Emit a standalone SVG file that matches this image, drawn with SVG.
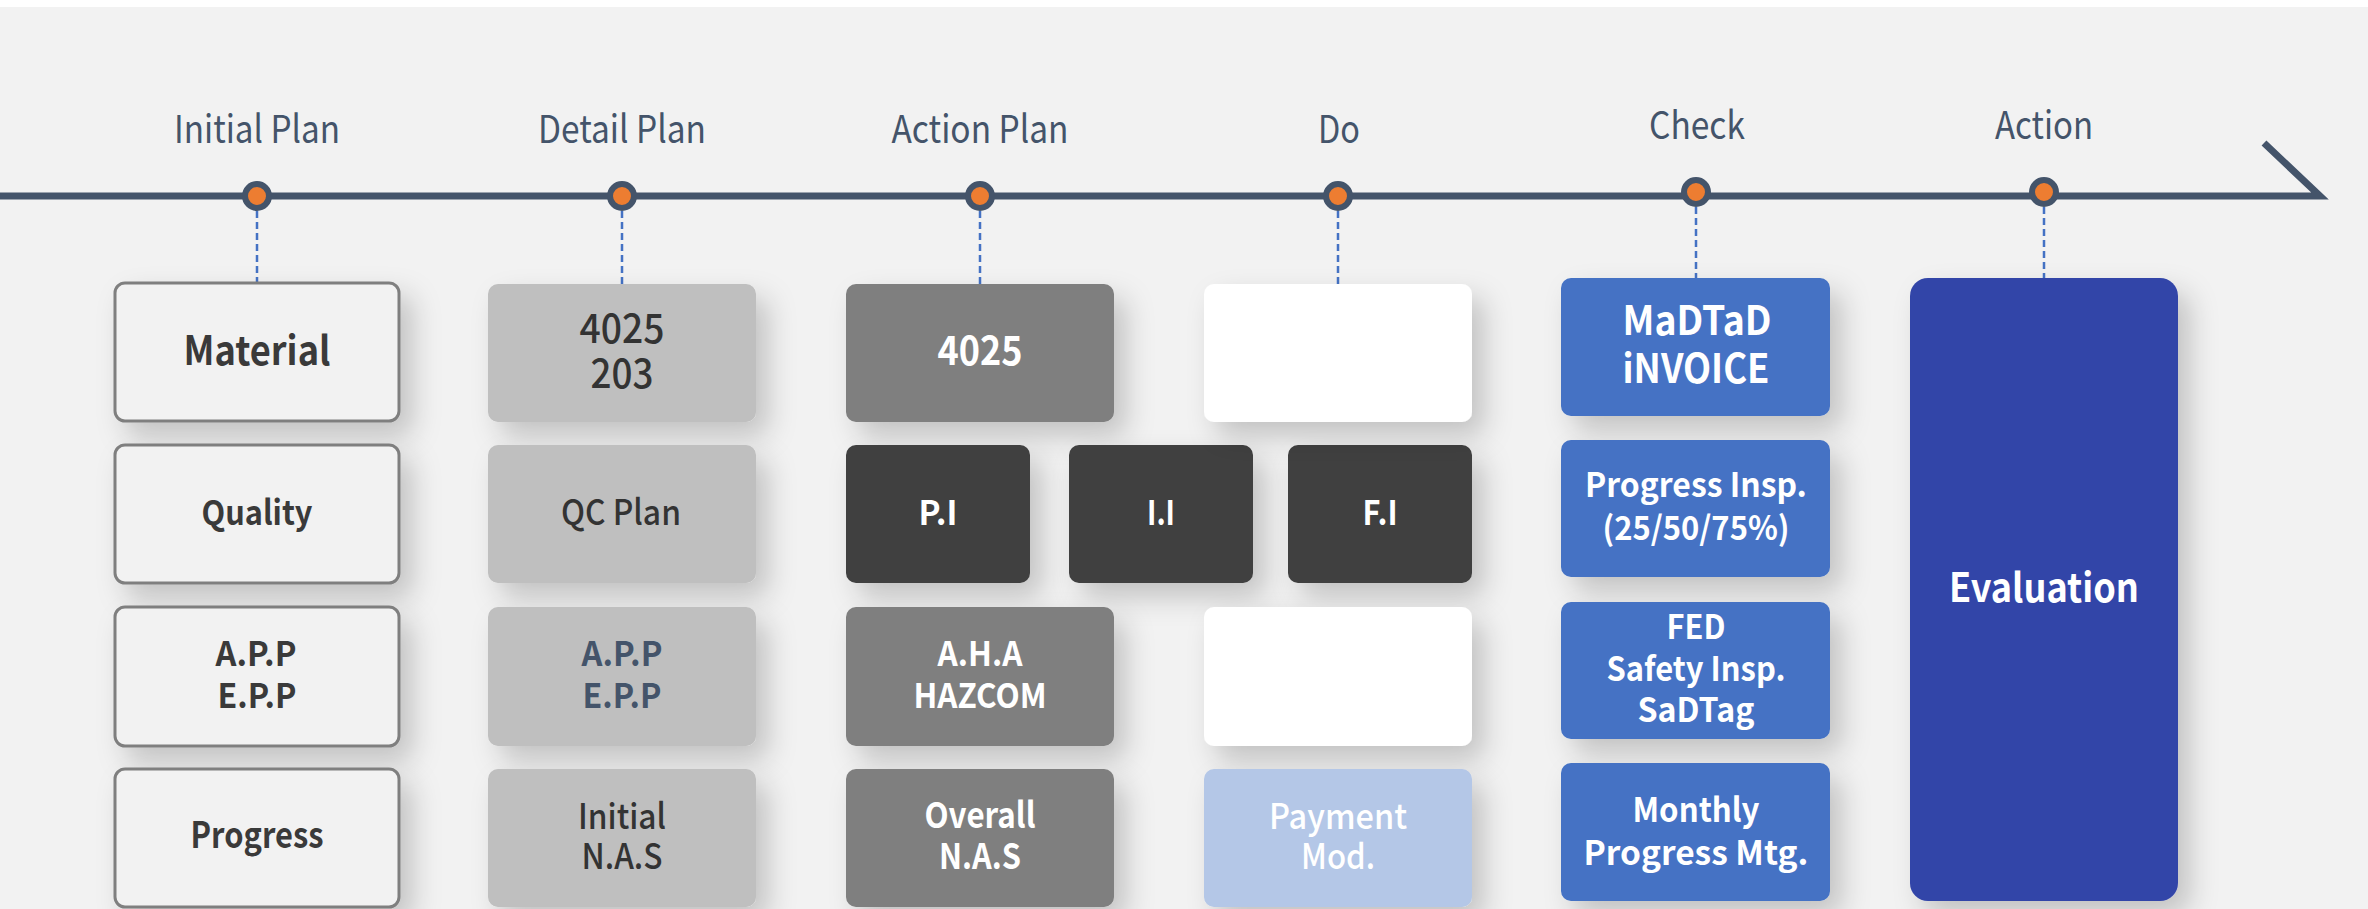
<svg xmlns="http://www.w3.org/2000/svg" width="2368" height="909" viewBox="0 0 2368 909">
<defs>
<filter id="sh" x="-30%" y="-30%" width="170%" height="170%">
<feDropShadow dx="12" dy="14" stdDeviation="14" flood-color="#000" flood-opacity="0.2"/>
</filter>
<style>
text{font-family:"Noto Sans CJK KR","Noto Sans",sans-serif;text-anchor:middle}
.lab{font-size:38px;fill:#44546a}
.dot{fill:#ed7d31;stroke:#44546a;stroke-width:6}
.dash{stroke:#4472c4;stroke-width:2.5;stroke-dasharray:7 4;fill:none}
.c1{fill:#f2f2f2;stroke:#7f7f7f;stroke-width:3}
.c2{fill:#bfbfbf}
.c3{fill:#7f7f7f}
.dk{fill:#404040}
.wh{fill:#ffffff}
.lb{fill:#b4c7e7}
.bl{fill:#4472c4}
.nv{fill:#3244a8}
.tb{font-weight:700;fill:#3a3a3a}
.tm{font-weight:500;fill:#333333}
.tw{font-weight:700;fill:#ffffff}
</style>
</defs>
<rect x="0" y="0" width="2368" height="909" fill="#ffffff"/>
<rect x="0" y="7" width="2368" height="902" fill="#f2f2f2"/>

<g id="timeline">
<polyline points="0,196 2320,196 2264,143" fill="none" stroke="#44546a" stroke-width="7"/>
</g>

<g id="connectors">
<line class="dash" x1="257" y1="211" x2="257" y2="283"/>
<line class="dash" x1="622" y1="211" x2="622" y2="284"/>
<line class="dash" x1="980" y1="211" x2="980" y2="284"/>
<line class="dash" x1="1338" y1="211" x2="1338" y2="284"/>
<line class="dash" x1="1696" y1="207" x2="1696" y2="278"/>
<line class="dash" x1="2044" y1="207" x2="2044" y2="278"/>
</g>

<g id="stage-initial">
<circle class="dot" cx="257" cy="196" r="12"/>
<text class="lab" x="257" y="143" textLength="166" lengthAdjust="spacingAndGlyphs">Initial Plan</text>
</g>
<g id="stage-detail">
<circle class="dot" cx="622" cy="196" r="12"/>
<text class="lab" x="622" y="143" textLength="168" lengthAdjust="spacingAndGlyphs">Detail Plan</text>
</g>
<g id="stage-action-plan">
<circle class="dot" cx="980" cy="196" r="12"/>
<text class="lab" x="980" y="143" textLength="177" lengthAdjust="spacingAndGlyphs">Action Plan</text>
</g>
<g id="stage-do">
<circle class="dot" cx="1338" cy="196" r="12"/>
<text class="lab" x="1339" y="143" textLength="42" lengthAdjust="spacingAndGlyphs">Do</text>
</g>
<g id="stage-check">
<circle class="dot" cx="1696" cy="192" r="12"/>
<text class="lab" x="1697" y="139" textLength="96" lengthAdjust="spacingAndGlyphs">Check</text>
</g>
<g id="stage-action">
<circle class="dot" cx="2044" cy="192" r="12"/>
<text class="lab" x="2044" y="139" textLength="98" lengthAdjust="spacingAndGlyphs">Action</text>
</g>

<g id="material">
<rect class="c1" x="115" y="283" width="284" height="138" rx="10" filter="url(#sh)"/>
<text class="tb" x="257" y="365" font-size="40" textLength="147" lengthAdjust="spacingAndGlyphs">Material</text>
</g>
<g id="quality">
<rect class="c1" x="115" y="445" width="284" height="138" rx="10" filter="url(#sh)"/>
<text class="tb" x="257" y="525" font-size="34" textLength="111" lengthAdjust="spacingAndGlyphs">Quality</text>
</g>
<g id="app-epp">
<rect class="c1" x="115" y="607" width="284" height="139" rx="10" filter="url(#sh)"/>
<text class="tb" x="256" y="666" font-size="34" textLength="81" lengthAdjust="spacingAndGlyphs">A.P.P</text>
<text class="tb" x="257" y="708" font-size="34" textLength="79" lengthAdjust="spacingAndGlyphs">E.P.P</text>
</g>
<g id="progress">
<rect class="c1" x="115" y="769" width="284" height="138" rx="10" filter="url(#sh)"/>
<text class="tb" x="257" y="848" font-size="36" textLength="133" lengthAdjust="spacingAndGlyphs">Progress</text>
</g>

<g id="d-4025-203">
<rect class="c2" x="488" y="284" width="268" height="138" rx="10" filter="url(#sh)"/>
<text class="tm" x="622" y="343" font-size="40" textLength="85" lengthAdjust="spacingAndGlyphs">4025</text>
<text class="tm" x="622" y="388" font-size="40" textLength="63" lengthAdjust="spacingAndGlyphs">203</text>
</g>
<g id="qc-plan">
<rect class="c2" x="488" y="445" width="268" height="138" rx="10" filter="url(#sh)"/>
<text class="tm" x="621" y="525" font-size="35" font-weight="400" textLength="120" lengthAdjust="spacingAndGlyphs">QC Plan</text>
</g>
<g id="d-app-epp">
<rect class="c2" x="488" y="607" width="268" height="139" rx="10" filter="url(#sh)"/>
<text x="622" y="666" font-size="34" font-weight="700" fill="#44546a" textLength="81" lengthAdjust="spacingAndGlyphs">A.P.P</text>
<text x="622" y="708" font-size="34" font-weight="700" fill="#44546a" textLength="79" lengthAdjust="spacingAndGlyphs">E.P.P</text>
</g>
<g id="initial-nas">
<rect class="c2" x="488" y="769" width="268" height="138" rx="10" filter="url(#sh)"/>
<text class="tm" x="622" y="829" font-size="35" textLength="88" lengthAdjust="spacingAndGlyphs">Initial</text>
<text class="tm" x="622" y="869" font-size="35" textLength="81" lengthAdjust="spacingAndGlyphs">N.A.S</text>
</g>

<g id="a-4025">
<rect class="c3" x="846" y="284" width="268" height="138" rx="10" filter="url(#sh)"/>
<text class="tw" x="980" y="365" font-size="40" textLength="85" lengthAdjust="spacingAndGlyphs">4025</text>
</g>
<g id="pi">
<rect class="dk" x="846" y="445" width="184" height="138" rx="10" filter="url(#sh)"/>
<text class="tw" x="938" y="525" font-size="34" textLength="39" lengthAdjust="spacingAndGlyphs">P.I</text>
</g>
<g id="ii">
<rect class="dk" x="1069" y="445" width="184" height="138" rx="10" filter="url(#sh)"/>
<text class="tw" x="1161" y="525" font-size="34" textLength="28" lengthAdjust="spacingAndGlyphs">I.I</text>
</g>
<g id="fi">
<rect class="dk" x="1288" y="445" width="184" height="138" rx="10" filter="url(#sh)"/>
<text class="tw" x="1380" y="525" font-size="34" textLength="35" lengthAdjust="spacingAndGlyphs">F.I</text>
</g>
<g id="aha-hazcom">
<rect class="c3" x="846" y="607" width="268" height="139" rx="10" filter="url(#sh)"/>
<text class="tw" x="980" y="666" font-size="34" textLength="85" lengthAdjust="spacingAndGlyphs">A.H.A</text>
<text class="tw" x="980" y="708" font-size="34" textLength="133" lengthAdjust="spacingAndGlyphs">HAZCOM</text>
</g>
<g id="overall-nas">
<rect class="c3" x="846" y="769" width="268" height="138" rx="10" filter="url(#sh)"/>
<text class="tw" x="980" y="828" font-size="35" textLength="111" lengthAdjust="spacingAndGlyphs">Overall</text>
<text class="tw" x="980" y="869" font-size="35" textLength="82" lengthAdjust="spacingAndGlyphs">N.A.S</text>
</g>

<g id="do-1">
<rect class="wh" x="1204" y="284" width="268" height="138" rx="10" filter="url(#sh)"/>
</g>
<g id="do-3">
<rect class="wh" x="1204" y="607" width="268" height="139" rx="10" filter="url(#sh)"/>
</g>
<g id="payment-mod">
<rect class="lb" x="1204" y="769" width="268" height="138" rx="10" filter="url(#sh)"/>
<text x="1338" y="829" font-size="35" font-weight="500" fill="#ffffff" textLength="138" lengthAdjust="spacingAndGlyphs">Payment</text>
<text x="1338" y="869" font-size="35" font-weight="500" fill="#ffffff" textLength="74" lengthAdjust="spacingAndGlyphs">Mod.</text>
</g>

<g id="madtad-invoice">
<rect class="bl" x="1561" y="278" width="269" height="138" rx="10" filter="url(#sh)"/>
<text class="tw" x="1697" y="335" font-size="40" textLength="149" lengthAdjust="spacingAndGlyphs">MaDTaD</text>
<text class="tw" x="1696" y="383" font-size="40" textLength="147" lengthAdjust="spacingAndGlyphs">iNVOICE</text>
</g>
<g id="progress-insp">
<rect class="bl" x="1561" y="440" width="269" height="137" rx="10" filter="url(#sh)"/>
<text class="tw" x="1696" y="497" font-size="33" textLength="222" lengthAdjust="spacingAndGlyphs">Progress Insp.</text>
<text class="tw" x="1696" y="540" font-size="33" textLength="187" lengthAdjust="spacingAndGlyphs">(25/50/75%)</text>
</g>
<g id="fed-safety">
<rect class="bl" x="1561" y="602" width="269" height="137" rx="10" filter="url(#sh)"/>
<text class="tw" x="1696" y="639" font-size="33" textLength="59" lengthAdjust="spacingAndGlyphs">FED</text>
<text class="tw" x="1696" y="681" font-size="33" textLength="179" lengthAdjust="spacingAndGlyphs">Safety Insp.</text>
<text class="tw" x="1696" y="722" font-size="33" textLength="117" lengthAdjust="spacingAndGlyphs">SaDTag</text>
</g>
<g id="monthly-mtg">
<rect class="bl" x="1561" y="763" width="269" height="138" rx="10" filter="url(#sh)"/>
<text class="tw" x="1696" y="822" font-size="33" textLength="127" lengthAdjust="spacingAndGlyphs">Monthly</text>
<text class="tw" x="1696" y="865" font-size="33" textLength="225" lengthAdjust="spacingAndGlyphs">Progress Mtg.</text>
</g>

<g id="evaluation">
<rect class="nv" x="1910" y="278" width="268" height="623" rx="18" filter="url(#sh)"/>
<text class="tw" x="2044" y="602" font-size="40" textLength="190" lengthAdjust="spacingAndGlyphs">Evaluation</text>
</g>
</svg>
